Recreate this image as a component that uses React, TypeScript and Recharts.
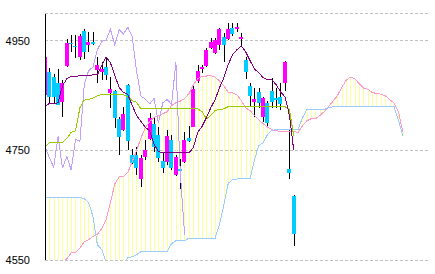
import React from 'react';
import { ComposedChart, Bar, Line, XAxis, YAxis, CartesianGrid } from 'recharts';

const opens = [4852, 4894, 4885, 4874, 4839, 4905, 4947, 4941, 4921, 4969,
  4943, 4949, 4898, 4893, 4903, 4856, 4858, 4808, 4788, 4870,
  4742, 4742, 4699, 4737, 4772, 4799, 4779, 4731, 4728, 4770,
  4706, 4717, 4730, 4772, 4794, 4878, 4899, 4905, 4938, 4929,
  4941, 4958, 4952, 4974, 4971, 4955, 4916, 4868, 4838, 4856,
  4810, 4836, 4858, 4846, 4847, 4873, 4717, 4666];
const closes = [4921, 4848, 4848, 4834, 4874, 4947, 4945, 4939, 4960, 4930,
  4949, 4946, 4907, 4898, 4888, 4863, 4808, 4776, 4817, 4767,
  4728, 4719, 4737, 4750, 4810, 4757, 4737, 4719, 4776, 4718,
  4739, 4714, 4770, 4767, 4863, 4896, 4902, 4934, 4949, 4952,
  4971, 4943, 4971, 4963, 4975, 4958, 4894, 4849, 4844, 4835,
  4845, 4800, 4837, 4843, 4834, 4911, 4710, 4596];
const highs = [4925, 4901, 4890, 4898, 4878, 4954, 4961, 4961, 4963, 4971,
  4967, 4967, 4921, 4912, 4919, 4885, 4861, 4812, 4830, 4872,
  4752, 4757, 4742, 4770, 4819, 4812, 4792, 4748, 4788, 4779,
  4742, 4735, 4784, 4794, 4867, 4907, 4907, 4938, 4956, 4956,
  4974, 4965, 4982, 4982, 4982, 4965, 4920, 4874, 4865, 4865,
  4848, 4841, 4883, 4865, 4874, 4913, 4788, 4668];
const lows = [4849, 4837, 4837, 4832, 4810, 4903, 4930, 4919, 4916, 4916,
  4930, 4943, 4874, 4879, 4879, 4828, 4792, 4742, 4786, 4752,
  4724, 4706, 4684, 4733, 4770, 4748, 4728, 4710, 4724, 4715,
  4704, 4680, 4728, 4764, 4792, 4874, 4892, 4903, 4936, 4927,
  4934, 4912, 4951, 4958, 4965, 4940, 4879, 4830, 4812, 4828,
  4803, 4792, 4828, 4828, 4825, 4859, 4699, 4574];

const tenkan = [4830, 4836, 4836, 4837, 4868, 4881, 4885, 4885, 4887, 4887,
  4887, 4888, 4888, 4905, 4921, 4910, 4887, 4865, 4856, 4852,
  4832, 4814, 4803, 4792, 4786, 4761, 4748, 4746, 4746, 4746,
  4746, 4746, 4746, 4746, 4755, 4783, 4794, 4810, 4828, 4843,
  4865, 4883, 4907, 4925, 4934, 4941, 4930, 4914, 4899, 4892,
  4883, 4879, 4879, 4870, 4857, 4848, 4815, 4751];
const kijun = [4757, 4764, 4764, 4764, 4764, 4772, 4783, 4786, 4828, 4842,
  4843, 4846, 4850, 4852, 4852, 4852, 4852, 4852, 4852, 4848,
  4841, 4838, 4826, 4826, 4826, 4826, 4826, 4826, 4826, 4826,
  4826, 4826, 4826, 4826, 4826, 4826, 4821, 4808, 4814, 4823,
  4825, 4826, 4830, 4830, 4830, 4830, 4830, 4830, 4830, 4830,
  4830, 4830, 4830, 4830, 4830, 4830, 4825, 4777];
const chikou = [4757, 4737, 4719, 4776, 4718, 4739, 4714, 4770, 4767, 4870,
  4896, 4902, 4934, 4949, 4952, 4971, 4943, 4971, 4963, 4975,
  4958, 4894, 4849, 4844, 4835, 4845, 4800, 4837, 4843, 4834,
  4911, 4710, 4596];
const senkouA = [4525, 4530, 4535, 4540, 4545,
  4552, 4563, 4564, 4572, 4583,
  4587, 4593, 4597, 4607, 4624,
  4655, 4689, 4702, 4702, 4710,
  4730, 4750, 4773, 4792, 4803,
  4810, 4814, 4817, 4821, 4832,
  4837, 4840, 4845, 4854, 4870,
  4881, 4885, 4886, 4887, 4884,
  4877, 4868, 4856, 4855, 4852,
  4841, 4828, 4823, 4814, 4806,
  4799, 4793, 4788, 4786, 4785,
  4785, 4785, 4785, 4783, 4795,
  4804, 4808, 4808, 4814, 4821,
  4830, 4840, 4850, 4865, 4878,
  4884, 4881, 4872, 4864, 4862,
  4856, 4854, 4853, 4850, 4843,
  4837, 4821, 4784];
const senkouB = [4664, 4664, 4664, 4664, 4664,
  4664, 4664, 4664, 4664, 4662,
  4655, 4629, 4578, 4569, 4547,
  4540, 4540, 4540, 4540, 4554,
  4556, 4560, 4565, 4566, 4566,
  4566, 4566, 4566, 4566, 4580,
  4585, 4585, 4585, 4590, 4590,
  4590, 4590, 4590, 4590, 4590,
  4615, 4651, 4690, 4697, 4698,
  4698, 4698, 4698, 4733, 4759,
  4764, 4779, 4787, 4788, 4788,
  4788, 4788, 4788, 4788, 4810,
  4825, 4825, 4825, 4825, 4825,
  4828, 4830, 4830, 4830, 4830,
  4830, 4830, 4830, 4830, 4830,
  4830, 4830, 4830, 4830, 4830,
  4830, 4806, 4777];
const yTicks = [4550, 4750, 4950];

const data = senkouA.map((a, i) => {
  const b = senkouB[i];
  const row: any = { i, spanA: a, spanB: b, cloud: [Math.min(a, b), Math.max(a, b)] };
  if (i < opens.length) {
    row.candle = [lows[i], highs[i]];
    row.open = opens[i];
    row.close = closes[i];
    row.high = highs[i];
    row.low = lows[i];
    row.tenkan = tenkan[i];
    row.kijun = kijun[i];
  }
  if (i < chikou.length) row.chikou = chikou[i];
  return row;
});

const Candle = (props: any) => {
  const { x, y, width, height, payload } = props;
  if (!payload || payload.open == null || x == null || y == null) return null;
  const cx = x + (width || 0) / 2;
  const top = Math.min(y, y + height);
  const bot = Math.max(y, y + height);
  const { open, close, high, low } = payload;
  const k = (bot - top) / (high - low);
  const yo = top + (high - open) * k;
  const yc = top + (high - close) * k;
  const up = close >= open;
  const bTop = Math.round(Math.min(yo, yc));
  const bH = Math.max(1, Math.round(Math.abs(yo - yc)));
  const px = Math.round(cx);
  return (
    <g>
      <rect x={px} y={Math.round(top)} width={1} height={Math.round(bot - top)} fill="#000000" />
      <rect x={px - 2} y={bTop} width={4} height={bH} fill={up ? '#ff00ff' : '#00ccff'} />
    </g>
  );
};

const CloudLine = (props: any) => {
  const { x, y, width, height } = props;
  if (x == null || y == null) return null;
  const cx = Math.round(x + (width || 0) / 2);
  const top = Math.min(y, y + height);
  const h = Math.abs(height);
  return <rect x={cx} y={top} width={1} height={Math.max(h, 1)} fill="#ffff99" />;
};

export default function App() {
  return (
    <div style={{ position: 'absolute', left: 0, top: 0, background: '#fff', shapeRendering: 'crispEdges' } as any}>
      <ComposedChart width={435} height={274} data={data} margin={{ top: 13.6, right: 5, bottom: 14, left: 0 }}>
        <CartesianGrid vertical={false} stroke="#c0c0c0" strokeDasharray="3 2" />
        <XAxis xAxisId={0} dataKey="i" type="number" domain={[0, 88.24]} allowDataOverflow hide />
        <XAxis xAxisId="cloud" dataKey="i" type="number" domain={[0, 88.24]} allowDataOverflow hide />
        <YAxis
          type="number"
          domain={[4550, 5000]}
          allowDataOverflow
          ticks={yTicks}
          interval={0}
          width={45}
          tickLine={false}
          tickSize={0}
          tickMargin={15}
          axisLine={{ stroke: '#000000' }}
          tick={{ fill: '#000000', fontSize: 11, fontFamily: 'Liberation Sans' }}
        />
        <Bar xAxisId="cloud" dataKey="cloud" barSize={4} shape={<CloudLine />} isAnimationActive={false} />
        <Line xAxisId={0} dataKey="spanA" stroke="#ff99cc" strokeWidth={1} dot={false} activeDot={false} isAnimationActive={false} />
        <Line xAxisId={0} dataKey="spanB" stroke="#99ccff" strokeWidth={1} dot={false} activeDot={false} isAnimationActive={false} />
        <Line xAxisId={0} dataKey="chikou" stroke="#bf9fff" strokeWidth={1} dot={false} activeDot={false} isAnimationActive={false} />
        <Line xAxisId={0} dataKey="kijun" stroke="#99cc00" strokeWidth={1} dot={false} activeDot={false} isAnimationActive={false} />
        <Line xAxisId={0} dataKey="tenkan" stroke="#800080" strokeWidth={1} dot={false} activeDot={false} isAnimationActive={false} />
        <Bar xAxisId={0} dataKey="candle" barSize={4} shape={<Candle />} isAnimationActive={false} />
      </ComposedChart>
    </div>
  );
}
